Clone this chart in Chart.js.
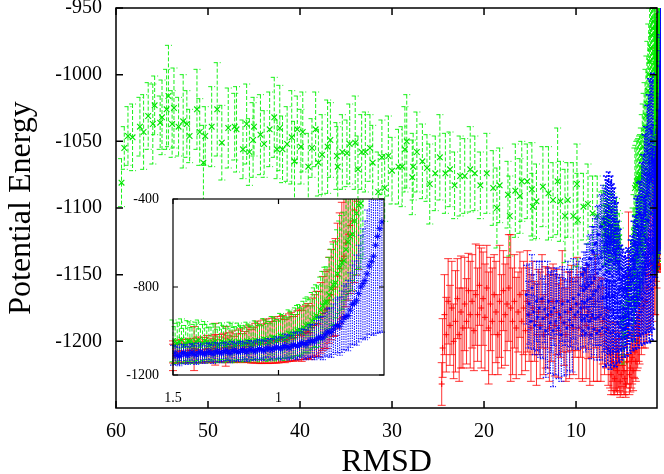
<!DOCTYPE html>
<html>
<head>
<meta charset="utf-8">
<script src="https://cdn.jsdelivr.net/npm/chart.js@4.4.0/dist/chart.umd.min.js"></script>
<style>
html,body{margin:0;padding:0;background:#fff;}
#wrap{position:relative;width:664px;height:474px;}
#main{position:absolute;left:0;top:0;}
#inset{position:absolute;left:100px;top:185px;}
</style>
</head>
<body>
<div id="wrap">
  <canvas id="main" width="664" height="474"></canvas>
  <canvas id="inset" width="300" height="230"></canvas>
</div>
<script>
// [rmsd, energy, error]
const greenFar = [
  [59.4,-1081,18],[59.1,-1055,16],[58.7,-1046,22],[58.2,-1047,25],[57.4,-1039,22],[57.0,-1043,28],[56.5,-1031,25],[56.0,-1037,30],[55.8,-1023,22],[55.2,-1036,20],
  [55.0,-1032,28],[54.5,-1026,30],[54.3,-1016,38],[53.9,-1037,25],[53.7,-1025,30],[53.2,-1039,22],[52.7,-1035,35],[52.3,-1037,25],[52.0,-1046,20],[51.2,-1026,30],
  [50.9,-1043,25],[50.5,-1066,28],[50.3,-1046,22],[49.6,-1039,30],[49.0,-1026,35],[48.5,-1051,28],[47.8,-1040,30],[47.1,-1039,25],[46.9,-1041,32],[46.2,-1056,22],
  [45.8,-1037,30],[45.5,-1058,25],[45.1,-1049,28],[45.0,-1039,22],[44.3,-1045,30],[43.9,-1052,25],[43.3,-1041,28],[42.8,-1032,30],[42.5,-1056,22],[42.2,-1040,32],
  [41.9,-1056,25],[41.4,-1052,28],[40.9,-1047,35],[40.6,-1065,30],[40.3,-1041,25],[39.9,-1054,28],[39.7,-1043,30],[39.1,-1069,25],[38.7,-1055,22],[38.3,-1041,28],
  [38.0,-1066,25],[37.6,-1060,30],[37.0,-1054,35],[36.7,-1049,28],[36.0,-1061,25],[35.9,-1069,30],[35.4,-1058,28],[34.9,-1059,25],[34.6,-1052,30],[34.0,-1051,35],
  [33.7,-1071,25],[33.3,-1058,28],[32.9,-1058,30],[32.4,-1055,25],[32.1,-1066,28],[31.5,-1088,30],[31.1,-1062,28],[30.8,-1085,25],[30.4,-1061,30],[30.0,-1072,25],
  [29.3,-1069,28],[28.9,-1069,30],[28.6,-1056,32],[28.4,-1050,35],[27.8,-1077,28],[27.7,-1069,25],[27.3,-1058,30],[26.7,-1065,28],[26.2,-1070,25],[25.9,-1082,30],
  [25.3,-1074,28],[24.8,-1062,32],[24.2,-1074,30],[23.7,-1071,28],[23.2,-1083,25],[22.6,-1076,30],[22.1,-1076,28],[21.5,-1071,32],[21.0,-1074,28],[20.4,-1083,25],
  [19.7,-1074,30],[19.0,-1085,28],[18.6,-1100,30],[18.3,-1083,28],[17.4,-1090,25],[17.2,-1106,30],[16.6,-1087,35],[16.1,-1091,28],[15.9,-1080,30],[15.3,-1080,28],
  [14.8,-1086,35],[14.7,-1099,25],[14.3,-1095,28],[13.6,-1084,30],[13.0,-1089,35],[12.5,-1094,28],[12.0,-1080,40],[11.7,-1095,30],[11.2,-1106,35],[10.9,-1094,28],
  [10.3,-1106,40],[9.9,-1082,30],[9.8,-1109,35],[9.2,-1099,25],[8.7,-1097,30],[8.2,-1104,28],[7.7,-1106,30],[7.2,-1113,25]
];
const greenCore = [
  [7.0,-1112,25],[6.9,-1120,22],[6.8,-1108,25],[6.7,-1118,25],[6.6,-1110,22],[6.5,-1122,25],[6.4,-1112,25],[6.3,-1120,22],[6.2,-1115,25],[6.1,-1124,22],
  [6.0,-1114,25],[5.9,-1120,20],[5.8,-1118,22],[5.7,-1125,20],[5.6,-1115,22],[5.5,-1122,20],[5.4,-1128,18],[5.3,-1122,18],[5.2,-1130,15],
  [5.0,-1185,25],[4.8,-1195,22],[4.6,-1180,25],[4.4,-1170,25],[4.2,-1160,28],[4.0,-1152,28],
  [3.80,-1128,28],[3.75,-1170,30],[3.70,-1118,28],[3.65,-1150,35],[3.60,-1085,30],[3.55,-1140,35],[3.50,-1083,30],[3.45,-1138,35],[3.40,-1080,30],[3.35,-1135,35],
  [3.30,-1079,30],[3.25,-1135,35],[3.20,-1078,30],[3.15,-1133,35],[3.10,-1076,30],[3.05,-1130,35],[3.00,-1075,30],[2.95,-1128,35],[2.90,-1070,30],[2.85,-1125,35],
  [2.80,-1062,32],[2.75,-1120,35],[2.70,-1054,32],[2.65,-1115,38],[2.60,-1046,32],[2.55,-1110,38],[2.50,-1040,34],[2.45,-1100,40],[2.40,-1031,35],[2.35,-1090,40],
  [2.30,-1022,36],[2.25,-1080,42],[2.20,-1012,37],[2.15,-1072,42],[2.10,-1000,38],[2.05,-1065,45],[2.00,-990,40],[1.95,-1060,45],[1.90,-980,45],[1.85,-1055,48],
  [1.80,-970,50],[1.75,-1050,50],[1.70,-965,55],[1.65,-1050,55],[1.60,-960,60],[1.55,-1045,60]
];
const greenNative = [
  [1.50,-1045,95],[1.48,-1055,90],[1.46,-1040,95],[1.44,-1060,85],[1.42,-1048,90],[1.40,-1058,88],[1.38,-1042,92],[1.36,-1055,85],[1.34,-1050,80],[1.32,-1060,78],
  [1.30,-1048,82],[1.28,-1062,80],[1.26,-1052,78],[1.24,-1058,80],[1.22,-1050,85],[1.20,-1060,80],[1.18,-1052,78],[1.16,-1058,82],[1.14,-1048,80],[1.12,-1055,78],
  [1.10,-1045,85],[1.08,-1050,80],[1.06,-1040,90],[1.04,-1045,88],[1.02,-1032,95],[1.00,-1038,90],[0.98,-1025,100],[0.96,-1030,95],[0.94,-1015,105],[0.92,-1005,110],
  [0.90,-995,115],[0.88,-985,120],[0.86,-970,125],[0.84,-955,130],[0.82,-930,140],[0.80,-905,150],[0.78,-870,160],[0.76,-835,170],[0.74,-790,185],[0.72,-740,200],
  [0.70,-690,215],[0.68,-630,230],[0.66,-570,250],[0.64,-500,270],[0.62,-430,290],[0.60,-370,300],
  [1.49,-1065,85],[1.47,-1050,90],[1.45,-1068,80],[1.43,-1045,92],[1.41,-1066,82],[1.39,-1050,90],[1.37,-1068,78],[1.35,-1045,88],[1.33,-1065,80],[1.31,-1052,84],
  [1.29,-1068,76],[1.27,-1048,85],[1.25,-1066,78],[1.23,-1046,86],[1.21,-1064,80],[1.19,-1048,84],[1.17,-1062,78],[1.15,-1046,86],[1.13,-1060,80],[1.11,-1042,88],
  [1.09,-1058,82],[1.07,-1036,92],[1.05,-1052,86],[1.03,-1030,96],[1.01,-1046,90],[0.99,-1022,102],[0.97,-1038,96],[0.95,-1012,108],[0.93,-1025,100],[0.91,-998,114],
  [0.89,-1005,110],[0.87,-975,124],[0.85,-978,122],[0.83,-940,136],[0.81,-935,140],[0.79,-885,156],[0.77,-868,160],[0.75,-808,180],[0.73,-780,190],[0.71,-710,210],
  [0.69,-680,220],[0.67,-595,240],[0.65,-560,255],[0.63,-465,280],[0.61,-420,290]
];

const redFar = [
  [24.6,-1232,16],[24.5,-1205,22],[24.3,-1180,30],[24.1,-1195,28],[23.9,-1170,32],[23.7,-1188,30],[23.5,-1175,35],[23.3,-1200,28],[23.1,-1185,38],[22.9,-1168,30],
  [22.7,-1195,35],[22.5,-1178,42],[22.3,-1190,30],[22.1,-1172,35],[21.9,-1185,32],[21.7,-1162,28],[21.5,-1180,40],[21.3,-1170,35],[21.1,-1192,30],[20.9,-1165,38],
  [20.7,-1180,35],[20.5,-1158,30],[20.3,-1175,45],[20.1,-1168,35],[19.9,-1182,40],[19.7,-1160,32],[19.5,-1190,42],[19.3,-1172,35],[19.1,-1185,40],[18.9,-1165,30],
  [18.7,-1178,38],[18.5,-1195,30],[18.3,-1170,42],[18.1,-1185,35],[17.9,-1162,30],[17.7,-1180,38],[17.5,-1172,35],[17.3,-1160,40],[17.1,-1175,55],[16.9,-1185,40],
  [16.7,-1170,35],[16.5,-1190,38],[16.3,-1178,30],[16.1,-1165,32],[15.9,-1185,40],[15.7,-1175,35],[15.5,-1192,30],[15.3,-1170,38],[15.1,-1180,35],[14.9,-1190,40],
  [14.7,-1175,35],[14.5,-1185,30],[14.3,-1195,38],[14.1,-1178,32],[13.9,-1188,40],[13.7,-1170,35],[13.5,-1195,30],[13.3,-1182,38],[13.1,-1175,30],[12.9,-1190,40],
  [12.7,-1180,35],[12.5,-1170,28],[12.3,-1188,38],[12.1,-1178,32],[11.9,-1192,35],[11.7,-1182,30],[11.5,-1170,38],[11.3,-1186,32],[11.1,-1195,35],[10.9,-1178,30],
  [10.7,-1188,40],[10.5,-1175,32],[10.3,-1190,35],[10.1,-1182,30],[9.9,-1172,35],[9.7,-1190,38],[9.5,-1180,32],[9.3,-1195,35],[9.1,-1175,30],[8.9,-1188,40],
  [8.7,-1178,35],[8.5,-1195,38],[8.3,-1182,30],[8.1,-1190,40],[7.9,-1170,35],[7.7,-1192,38],[7.5,-1182,30],[7.3,-1195,35],[7.1,-1185,32]
];
const redCore = [
  [6.9,-1200,25],[6.7,-1190,30],[6.5,-1205,28],[6.3,-1210,25],[6.2,-1225,15],[6.1,-1215,22],[6.0,-1208,22],[5.9,-1220,20],[5.8,-1228,12],[5.7,-1212,25],
  [5.6,-1218,20],[5.5,-1222,18],[5.4,-1210,25],[5.3,-1215,22],[5.2,-1230,12],[5.1,-1225,15],[5.0,-1212,22],[4.9,-1218,20],[4.8,-1222,18],[4.7,-1228,12],
  [4.6,-1232,10],[4.5,-1215,20],[4.4,-1210,22],[4.3,-1150,47],[4.2,-1225,15],[4.1,-1220,18],[4.0,-1215,20],[3.9,-1212,20],[3.8,-1222,15],[3.7,-1205,22],
  [3.6,-1208,20],[3.5,-1215,15],[3.4,-1200,22],[3.3,-1200,20],[3.2,-1190,25],[3.1,-1195,22],
  [2.9,-1185,25],[2.7,-1175,30],[2.5,-1170,35],[2.3,-1160,40],[2.1,-1150,45],[1.9,-1140,50],[1.7,-1130,55],[1.5,-1120,60],[1.4,-1080,100],[1.3,-1060,95],[1.25,-1070,90]
];
const redNative = [
  [1.50,-1095,50],[1.48,-1100,45],[1.46,-1090,52],[1.44,-1098,48],[1.42,-1088,55],[1.40,-1095,50],[1.38,-1085,58],[1.36,-1092,52],[1.34,-1080,60],[1.32,-1088,55],
  [1.30,-1078,62],[1.28,-1085,58],[1.26,-1075,65],[1.24,-1082,60],[1.22,-1070,70],[1.20,-1078,65],[1.18,-1065,75],[1.16,-1072,70],[1.14,-1058,85],[1.12,-1065,80],
  [1.10,-1050,95],[1.08,-1058,90],[1.06,-1045,100],[1.04,-1052,95],[1.02,-1040,105],[1.00,-1045,100],[0.98,-1035,105],[0.96,-1040,100],[0.94,-1025,110],[0.92,-1030,105],
  [0.90,-1015,115],[0.88,-1010,120],[0.86,-1000,125],[0.84,-985,135],[0.82,-965,145],[0.80,-940,160],[0.78,-905,175],[0.76,-860,195],[0.74,-810,215],[0.72,-750,240],
  [0.70,-680,265],[0.68,-600,290],[0.66,-520,310],[0.64,-450,330],[0.62,-380,340],
  [1.49,-1105,42],[1.47,-1092,50],[1.45,-1102,45],[1.43,-1090,52],[1.41,-1100,46],[1.39,-1088,55],[1.37,-1098,48],[1.35,-1085,56],[1.33,-1095,50],[1.31,-1082,60],
  [1.29,-1092,52],[1.27,-1078,62],[1.25,-1088,56],[1.23,-1074,66],[1.21,-1084,60],[1.19,-1068,72],[1.17,-1078,66],[1.15,-1062,80],[1.13,-1070,76],[1.11,-1055,90],
  [1.09,-1062,86],[1.07,-1048,98],[1.05,-1056,92],[1.03,-1044,102],[1.01,-1050,96],[0.99,-1038,104],[0.97,-1046,98],[0.95,-1030,108],[0.93,-1036,102],[0.91,-1020,112],
  [0.89,-1022,116],[0.87,-1005,122],[0.85,-1008,122],[0.83,-975,140],[0.81,-968,148],[0.79,-920,168],[0.77,-900,178],[0.75,-835,205],[0.73,-800,220],[0.71,-715,252],
  [0.69,-660,275],[0.67,-560,300],[0.65,-500,318],[0.63,-410,336]
];

const blueFar = [
  [15.4,-1165,22],[15.2,-1180,25],[15.1,-1172,30],[14.9,-1185,20],[14.8,-1160,25],[14.6,-1178,28],[14.5,-1188,22],[14.3,-1170,30],[14.2,-1182,25],[14.0,-1175,35],
  [13.9,-1190,22],[13.7,-1168,28],[13.6,-1183,30],[13.4,-1176,25],[13.3,-1192,35],[13.1,-1180,40],[13.0,-1170,25],[12.8,-1186,38],[12.7,-1178,30],[12.5,-1192,42],
  [12.4,-1175,28],[12.2,-1185,40],[12.1,-1170,25],[11.9,-1190,38],[11.8,-1180,30],[11.6,-1195,35],[11.5,-1172,28],[11.3,-1186,40],[11.2,-1178,25],[11.0,-1190,35],
  [10.9,-1170,30],[10.7,-1184,38],[10.6,-1176,28],[10.4,-1188,35],[10.3,-1168,30],[10.1,-1180,25],[10.0,-1172,30],[9.8,-1178,28],[9.7,-1165,25],[9.5,-1175,30]
];
const blueRise = [
  [9.40,-1184,12],[9.35,-1170,12],[9.30,-1150,12],[9.25,-1192,12],[9.20,-1162,13],[9.15,-1146,13],[9.10,-1183,13],[9.05,-1171,14],[9.00,-1147,14],
  [8.95,-1194,14],[8.90,-1160,15],[8.85,-1142,15],[8.80,-1181,15],[8.75,-1169,16],[8.70,-1143,16],[8.65,-1190,16],[8.60,-1158,16],[8.55,-1138,17],
  [8.50,-1185,17],[8.45,-1168,17],[8.40,-1138,18],[8.35,-1195,18],[8.30,-1156,18],[8.25,-1132,18],[8.20,-1180,18],[8.15,-1165,18],[8.10,-1133,19],[8.05,-1191,19],
  [8.00,-1153,19],[7.95,-1127,19],[7.90,-1183,20],[7.85,-1162,20],[7.80,-1126,20],[7.75,-1194,20],[7.70,-1149,21],[7.65,-1120,21],[7.60,-1182,21],[7.55,-1159,21],
  [7.50,-1120,22],[7.45,-1192,22],[7.40,-1146,22],[7.35,-1114,23],[7.30,-1180,23],[7.25,-1155,23],[7.20,-1114,24],[7.15,-1190,24],[7.10,-1144,24],[7.05,-1108,25],
  [7.00,-1183,25],[6.95,-1150,25],[6.90,-1111,26]
];
const blueCore = [
  [6.85,-1193,26],[6.80,-1142,26],[6.75,-1102,26],[6.70,-1180,26],[6.65,-1148,27],[6.60,-1106,27],[6.55,-1191,27],
  [6.50,-1140,27],[6.45,-1100,27],[6.40,-1182,27],[6.35,-1149,27],[6.30,-1107,27],[6.25,-1194,27],[6.20,-1139,26],[6.15,-1102,26],[6.10,-1181,26],[6.05,-1151,26],
  [6.00,-1108,26],[5.95,-1192,26],[5.90,-1142,25],[5.85,-1110,25],[5.80,-1183,25],[5.75,-1155,24],[5.70,-1116,24],[5.65,-1195,24],[5.60,-1148,23],
  [5.55,-1119,23],[5.50,-1186,22],[5.45,-1161,21],[5.40,-1130,20],[5.35,-1196,20],[5.30,-1159,19],[5.25,-1135,19],[5.20,-1189,18],[5.15,-1170,17],[5.10,-1145,17],
  [5.05,-1198,16],[5.00,-1166,16],[4.95,-1146,15],[4.90,-1191,15],[4.85,-1175,15],[4.80,-1151,15],[4.75,-1197,15],[4.70,-1167,15],[4.65,-1148,15],[4.60,-1190,15],
  [4.55,-1176,15],[4.50,-1152,15],[4.45,-1196,15],[4.40,-1165,15],[4.35,-1145,15],[4.30,-1187,15],[4.25,-1172,15],[4.20,-1147,15],[4.15,-1194,15],[4.10,-1162,16],
  [4.05,-1140,16],[4.00,-1184,16],[3.95,-1167,17],[3.90,-1138,17],[3.85,-1190,17],[3.80,-1154,18],[3.75,-1128,18],[3.70,-1180,19],[3.65,-1158,19],[3.60,-1126,20],
  [3.55,-1186,20],[3.50,-1146,21],[3.45,-1114,21],[3.40,-1174,22],[3.35,-1150,22],[3.30,-1113,22],[3.25,-1182,23],[3.20,-1137,23],[3.15,-1104,23],[3.10,-1172,24],
  [3.05,-1144,24],[3.00,-1104,24],[2.95,-1178,25],[2.90,-1131,26],[2.85,-1092,26],[2.80,-1168,27],[2.75,-1135,28],[2.70,-1088,28],[2.65,-1173,29],[2.60,-1121,29],
  [2.55,-1075,30],[2.50,-1164,30],[2.45,-1125,31],[2.40,-1071,32],[2.35,-1169,32],[2.30,-1109,34],[2.25,-1057,34],[2.20,-1158,35],[2.15,-1110,36],[2.10,-1052,37],
  [2.05,-1164,37],[2.00,-1097,38],[1.95,-1041,38],[1.90,-1155,38],[1.85,-1104,38],[1.80,-1043,38],[1.75,-1161,38],[1.70,-1095,39],[1.65,-1038,39],[1.60,-1152,39],
  [1.55,-1102,39]
];
const blueNative = [
  [1.50,-1110,45],[1.48,-1112,40],[1.46,-1105,45],[1.44,-1108,38],[1.42,-1102,42],[1.40,-1105,40],[1.38,-1100,45],[1.36,-1103,38],[1.34,-1098,42],[1.32,-1100,40],
  [1.30,-1096,45],[1.28,-1098,40],[1.26,-1094,42],[1.24,-1096,38],[1.22,-1092,45],[1.20,-1094,40],[1.18,-1090,42],[1.16,-1092,38],[1.14,-1088,45],[1.12,-1089,40],
  [1.10,-1085,42],[1.08,-1086,45],[1.06,-1082,40],[1.04,-1083,48],[1.02,-1079,45],[1.00,-1077,50],[0.98,-1075,48],[0.96,-1072,55],[0.94,-1070,52],[0.92,-1066,60],
  [0.90,-1062,58],[0.88,-1058,65],[0.86,-1052,70],[0.84,-1045,75],[0.82,-1038,85],[0.80,-1028,95],[0.78,-1018,100],[0.76,-1005,110],[0.74,-992,115],[0.72,-975,125],
  [0.70,-958,140],[0.68,-935,150],[0.66,-905,170],[0.64,-872,190],[0.62,-830,220],[0.60,-785,250],[0.58,-740,290],[0.56,-685,330],[0.54,-610,400],[0.53,-570,440],
  [0.52,-535,470],[0.51,-505,500],
  [1.49,-1100,35],[1.47,-1116,42],[1.45,-1098,36],[1.43,-1112,40],[1.41,-1095,38],[1.39,-1110,42],[1.37,-1094,36],[1.35,-1108,40],[1.33,-1092,38],[1.31,-1106,42],
  [1.29,-1090,36],[1.27,-1104,40],[1.25,-1088,38],[1.23,-1102,42],[1.21,-1086,36],[1.19,-1098,40],[1.17,-1084,38],[1.15,-1096,42],[1.13,-1082,38],[1.11,-1094,40],
  [1.09,-1080,42],[1.07,-1090,44],[1.05,-1076,42],[1.03,-1086,46],[1.01,-1072,46],[0.99,-1082,50],[0.97,-1066,52],[0.95,-1077,55],[0.93,-1062,56],[0.91,-1070,60],
  [0.89,-1052,62],[0.87,-1062,68],[0.85,-1044,72],[0.83,-1050,80],[0.81,-1028,90],[0.79,-1032,98],[0.77,-1005,105],[0.75,-1008,112],[0.73,-978,120],[0.71,-978,132],
  [0.69,-940,145],[0.67,-930,160],[0.65,-880,180],[0.63,-860,205],[0.61,-800,235],[0.59,-770,270],[0.57,-705,310],[0.55,-660,360]
];

const green = greenFar.concat(greenCore, greenNative);
const red = redFar.concat(redCore, redNative);
const blueLoose = blueFar.concat(blueRise, blueNative);

const xTicks = [60, 50, 40, 30, 20, 10];
const yTicks = [-950, -1000, -1050, -1100, -1150, -1200];
const insetXTicks = [1.5, 1];
const insetYTicks = [-400, -800, -1200];

const SERIF = "'Liberation Serif', 'Times New Roman', serif";

// error bars drawn right before each dataset's points
const errBars = {
  id: 'errBars',
  beforeDatasetDraw(chart, args) {
    const ds = chart.data.datasets[args.index];
    if (!ds.errs) return;
    const {ctx, chartArea: a} = chart;
    const xs = chart.scales.x, ys = chart.scales.y;
    ctx.save();
    ctx.beginPath();
    ctx.rect(a.left - 4, a.top, a.right - a.left + 8, a.bottom - a.top);
    ctx.clip();
    ctx.strokeStyle = ds.barColor;
    ctx.lineWidth = ds.barWidth;
    ctx.setLineDash(ds.barDash);
    const c = ds.cap;
    ds.data.forEach((p, i) => {
      const px = xs.getPixelForValue(p.x);
      if (px < a.left - 4 || px > a.right + 4) return;
      const t = ys.getPixelForValue(p.y + ds.errs[i]);
      const b = ys.getPixelForValue(p.y - ds.errs[i]);
      ctx.beginPath();
      ctx.moveTo(px, t); ctx.lineTo(px, b);
      ctx.moveTo(px - c, t); ctx.lineTo(px + c, t);
      ctx.moveTo(px - c, b); ctx.lineTo(px + c, b);
      ctx.stroke();
    });
    ctx.restore();
  }
};

// white box + frame + inward ticks (gnuplot style)
const frame = {
  id: 'frame',
  beforeDraw(chart, args, opts) {
    const {ctx, chartArea: a} = chart;
    ctx.save();
    ctx.fillStyle = '#fff';
    if (opts.fillAll) ctx.fillRect(0, 0, chart.width, chart.height);
    else ctx.fillRect(a.left, a.top, a.right - a.left, a.bottom - a.top);
    ctx.restore();
  },
  afterDraw(chart, args, opts) {
    const {ctx, chartArea: a, scales} = chart;
    const L = opts.len;
    ctx.save();
    ctx.strokeStyle = '#000';
    ctx.lineWidth = opts.lw;
    ctx.beginPath();
    scales.x.ticks.forEach(t => {
      const p = scales.x.getPixelForValue(t.value);
      ctx.moveTo(p, a.bottom); ctx.lineTo(p, a.bottom - L);
      ctx.moveTo(p, a.top); ctx.lineTo(p, a.top + L);
    });
    scales.y.ticks.forEach(t => {
      const p = scales.y.getPixelForValue(t.value);
      ctx.moveTo(a.left, p); ctx.lineTo(a.left + L, p);
      ctx.moveTo(a.right, p); ctx.lineTo(a.right - L, p);
    });
    ctx.stroke();
    ctx.strokeRect(a.left, a.top, a.right - a.left, a.bottom - a.top);
    ctx.restore();
  }
};

function pts(arr) { return arr.map(p => ({x: p[0], y: p[1]})); }
function errs(arr) { return arr.map(p => p[2]); }

function makeSets(blueSize) {
  const blueLook = {
    pointStyle: 'star', radius: blueSize, borderColor: '#0000ff', borderWidth: 1, backgroundColor: '#0000ff'
  };
  return [
    {
      label: 'red', order: 4, data: pts(red), errs: errs(red),
      barColor: 'rgba(255,0,0,0.8)', barDash: [], barWidth: 1, cap: 4,
      pointStyle: 'cross', radius: 3, borderColor: '#ff0000', borderWidth: 1, backgroundColor: '#ff0000'
    },
    {
      label: 'green', order: 3, data: pts(green), errs: errs(green),
      barColor: 'rgba(0,240,0,0.9)', barDash: [4, 2], barWidth: 1, cap: 3.5,
      pointStyle: 'crossRot', radius: 4, borderColor: '#00e600', borderWidth: 1.1, backgroundColor: '#00e600'
    },
    Object.assign({
      label: 'blue', order: 2, data: pts(blueLoose), errs: errs(blueLoose),
      barColor: 'rgba(0,0,255,0.9)', barDash: [1.5, 1], barWidth: 1.1, cap: 3
    }, blueLook),
    Object.assign({
      label: 'blue core', order: 1, data: pts(blueCore), errs: errs(blueCore),
      barColor: '#0000ff', barDash: [2, 1], barWidth: 1.5, cap: 3
    }, blueLook, {radius: 1.2})
  ];
}

function axis(opts) {
  return {
    type: 'linear',
    min: opts.min, max: opts.max, reverse: !!opts.reverse,
    grid: {display: false, drawTicks: false},
    border: {display: false},
    afterBuildTicks: s => { s.ticks = opts.ticks.map(v => ({value: v})); },
    afterFit: s => {
      if (opts.width) s.width = opts.width;
      if (opts.height) s.height = opts.height;
      s.paddingTop = 0; s.paddingBottom = 0; s.paddingLeft = 0; s.paddingRight = 0;
    },
    ticks: {
      color: '#000', padding: opts.pad, autoSkip: false, maxRotation: 0,
      font: {family: SERIF, size: opts.fs},
      callback: v => String(v)
    },
    title: opts.title ? {
      display: true, text: opts.title, color: '#000',
      font: {family: SERIF, size: 32}, padding: opts.titlePad
    } : {display: false}
  };
}

new Chart(document.getElementById('main'), {
  type: 'scatter',
  data: {datasets: makeSets(1.6)},
  options: {
    responsive: false, animation: false, devicePixelRatio: 1,
    layout: {padding: {top: 8, right: 7, left: 0, bottom: 0}},
    plugins: {legend: {display: false}, tooltip: {enabled: false}, frame: {fillAll: true, len: 7, lw: 1.5}},
    scales: {
      x: axis({min: 1.2, max: 60, reverse: true, ticks: xTicks, pad: 12, fs: 20, height: 66,
               title: 'RMSD', titlePad: {top: 0, bottom: -8}}),
      y: axis({min: -1250, max: -950, ticks: yTicks, pad: 14, fs: 20, width: 116,
               title: 'Potential Energy', titlePad: {top: 2, bottom: 0}})
    }
  },
  plugins: [errBars, frame]
});

new Chart(document.getElementById('inset'), {
  type: 'scatter',
  data: {datasets: makeSets(3.5)},
  options: {
    responsive: false, animation: false, devicePixelRatio: 1,
    layout: {padding: {top: 14, right: 16, left: 0, bottom: 0}},
    plugins: {legend: {display: false}, tooltip: {enabled: false}, frame: {fillAll: false, len: 5, lw: 1.2}},
    scales: {
      x: axis({min: 0.5, max: 1.5, reverse: true, ticks: insetXTicks, pad: 15, fs: 14, height: 40}),
      y: axis({min: -1200, max: -400, ticks: insetYTicks, pad: 14, fs: 14, width: 73})
    }
  },
  plugins: [errBars, frame]
});
</script>
</body>
</html>
